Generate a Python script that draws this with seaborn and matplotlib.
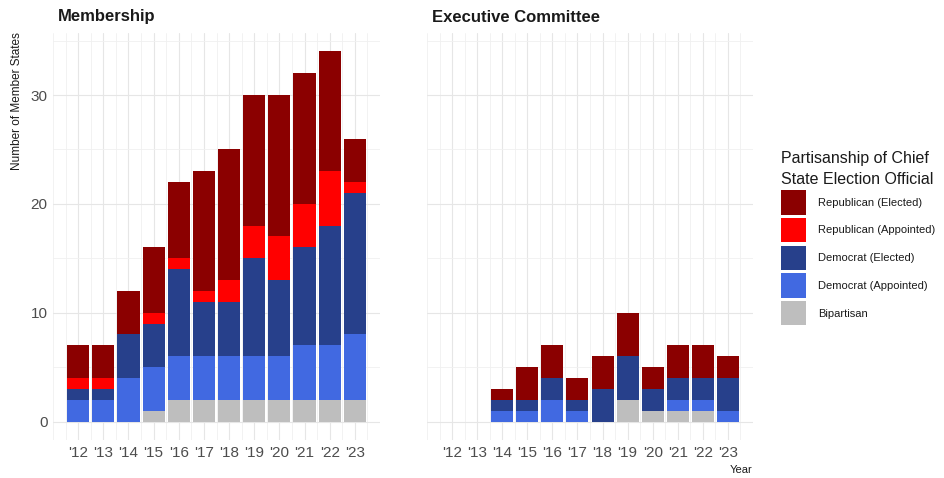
import numpy as np
import pandas as pd
import matplotlib
matplotlib.use("Agg")
import matplotlib.pyplot as plt
from matplotlib.patches import Patch
from matplotlib.ticker import MultipleLocator
import seaborn as sns

years = list(range(2012, 2024))
year_labels = ["'12", "'13", "'14", "'15", "'16", "'17", "'18", "'19", "'20", "'21", "'22", "'23"]

categories = ["Republican (Elected)", "Republican (Appointed)", "Democrat (Elected)",
              "Democrat (Appointed)", "Bipartisan"]
colors = ["#8B0000", "#FF0000", "#27408B", "#4169E1", "#BEBEBE"]

# Membership
mem_rep_elected = [3, 3, 4, 6, 7, 11, 12, 12, 13, 12, 11, 4]
mem_rep_appointed = [1, 1, 0, 1, 1, 1, 2, 3, 4, 4, 5, 1]
mem_dem_elected = [1, 1, 4, 4, 8, 5, 5, 9, 7, 9, 11, 13]
mem_dem_appointed = [2, 2, 4, 4, 4, 4, 4, 4, 4, 5, 5, 6]
mem_bipartisan = [0, 0, 0, 1, 2, 2, 2, 2, 2, 2, 2, 2]

# Executive Committee
exe_rep_elected = [0, 0, 1, 3, 3, 2, 3, 4, 2, 3, 3, 2]
exe_rep_appointed = [0, 0, 0, 0, 0, 0, 0, 0, 0, 0, 0, 0]
exe_dem_elected = [0, 0, 1, 1, 2, 1, 3, 4, 2, 2, 2, 3]
exe_dem_appointed = [0, 0, 1, 1, 2, 1, 0, 0, 0, 1, 1, 1]
exe_bipartisan = [0, 0, 0, 0, 0, 0, 0, 2, 1, 1, 1, 0]


def long_frame(series):
    rows = []
    for cat, vals in zip(categories, series):
        for y, v in zip(years, vals):
            rows.append({"year": y, "party": cat, "count": v})
    return pd.DataFrame(rows)


mem_df = long_frame([mem_rep_elected, mem_rep_appointed, mem_dem_elected,
                     mem_dem_appointed, mem_bipartisan])
exe_df = long_frame([exe_rep_elected, exe_rep_appointed, exe_dem_elected,
                     exe_dem_appointed, exe_bipartisan])

sns.set_theme(style="white")
plt.rcParams["font.family"] = ["Liberation Sans", "DejaVu Sans"]

fig = plt.figure(figsize=(9.45, 4.78), dpi=100)
ax1 = fig.add_axes([53 / 945, 1 - 440 / 478, 327 / 945, 407 / 478])
ax2 = fig.add_axes([427 / 945, 1 - 440 / 478, 326 / 945, 407 / 478], sharey=ax1)

palette = dict(zip(categories, colors))

for ax, df in [(ax1, mem_df), (ax2, exe_df)]:
    ax.set_axisbelow(True)
    sns.histplot(data=df, x="year", weights="count", hue="party", hue_order=categories,
                 multiple="stack", discrete=True, shrink=0.88, palette=palette,
                 alpha=1, linewidth=0, legend=False, ax=ax)
    ax.set_xlim(2011, 2024)
    ax.set_ylim(-1.7, 35.7)
    ax.set_xticks(years)
    ax.set_xticklabels(year_labels)
    ax.xaxis.set_minor_locator(MultipleLocator(0.5))
    ax.yaxis.set_major_locator(MultipleLocator(10))
    ax.yaxis.set_minor_locator(MultipleLocator(5))
    ax.grid(which="major", color="#E6E6E6", linewidth=0.8)
    ax.grid(which="minor", color="#F0F0F0", linewidth=0.6)
    for s in ax.spines.values():
        s.set_visible(False)
    ax.tick_params(axis="both", which="both", length=0, labelsize=11,
                   labelcolor="#4D4D4D", pad=4)
    ax.set_xlabel("")
    ax.set_ylabel("")

ax2.tick_params(axis="y", labelleft=False)

fig.text(58 / 945, 1 - 17 / 478, "Membership", fontsize=12, fontweight="bold",
         color="#1A1A1A", va="center", ha="left")
fig.text(432 / 945, 1 - 17 / 478, "Executive Committee", fontsize=12, fontweight="bold",
         color="#1A1A1A", va="center", ha="left")
fig.text(17 / 945, 1 - 32 / 478, "Number of Member States", fontsize=8.5, rotation=90,
         ha="center", va="top", color="#1A1A1A")
fig.text(752 / 945, 1 - 470 / 478, "Year", fontsize=8, ha="right", va="center",
         color="#1A1A1A")

handles = [Patch(facecolor=c, edgecolor="none", label=l) for c, l in zip(colors, categories)]
leg = fig.legend(handles=handles, loc="upper left", bbox_to_anchor=(777 / 945, 1 - 147 / 478),
                 title="Partisanship of Chief\nState Election Official", title_fontsize=11.5,
                 fontsize=8, frameon=False, handlelength=2.2, handleheight=3.0,
                 labelspacing=0.3, handletextpad=1.1, alignment="left", borderaxespad=0)
leg.get_title().set_linespacing(1.45)
leg.get_title().set_color("#1A1A1A")
for t in leg.get_texts():
    t.set_color("#1A1A1A")

fig.savefig("out.png", dpi=100)
